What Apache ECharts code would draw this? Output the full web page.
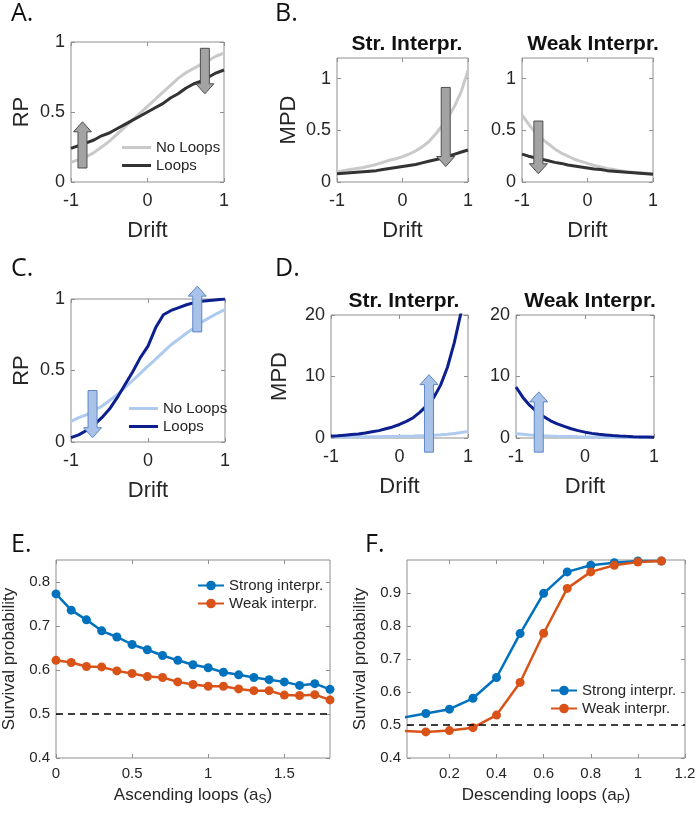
<!DOCTYPE html>
<html>
<head>
<meta charset="utf-8">
<script src="https://cdn.jsdelivr.net/npm/echarts@6/dist/echarts.min.js"></script>
<style>
  html, body { margin: 0; padding: 0; background: #fff; }
  #main { width: 700px; height: 815px; }
</style>
</head>
<body>
<div id="main"></div>
<script>
// x values for panels A-D
var drift = [-1, -0.9, -0.8, -0.7, -0.6, -0.5, -0.4, -0.3, -0.2, -0.1, 0, 0.1, 0.2, 0.3, 0.4, 0.5, 0.6, 0.7, 0.8, 0.9, 1];

// A. RP (grey)
var rpNoLoopsA = [0.14, 0.16, 0.18, 0.21, 0.25, 0.29, 0.34, 0.39, 0.44, 0.49, 0.54, 0.59, 0.64, 0.69, 0.74, 0.78, 0.81, 0.84, 0.87, 0.90, 0.92];
var rpLoopsA = [0.24, 0.26, 0.28, 0.30, 0.33, 0.35, 0.38, 0.41, 0.44, 0.47, 0.50, 0.53, 0.56, 0.60, 0.63, 0.67, 0.70, 0.72, 0.75, 0.78, 0.80];
// B. MPD (grey)
var mpdStrNoLoopsB = [0.10, 0.11, 0.12, 0.13, 0.14, 0.155, 0.17, 0.19, 0.21, 0.225, 0.245, 0.27, 0.30, 0.34, 0.39, 0.46, 0.54, 0.63, 0.74, 0.88, 1.08];
var mpdStrLoopsB = [0.08, 0.085, 0.09, 0.095, 0.10, 0.105, 0.11, 0.12, 0.13, 0.14, 0.15, 0.16, 0.17, 0.185, 0.20, 0.215, 0.23, 0.25, 0.27, 0.29, 0.31];
var mpdWeakNoLoopsB = [0.65, 0.56, 0.48, 0.42, 0.37, 0.32, 0.28, 0.25, 0.22, 0.20, 0.18, 0.16, 0.145, 0.13, 0.12, 0.11, 0.10, 0.095, 0.09, 0.085, 0.08];
var mpdWeakLoopsB = [0.27, 0.25, 0.235, 0.22, 0.205, 0.19, 0.18, 0.165, 0.155, 0.145, 0.135, 0.125, 0.12, 0.11, 0.105, 0.10, 0.095, 0.09, 0.085, 0.08, 0.075];
// C. RP (blue)
var rpNoLoopsC = [0.145, 0.17, 0.19, 0.22, 0.25, 0.29, 0.33, 0.38, 0.43, 0.48, 0.53, 0.58, 0.63, 0.68, 0.72, 0.76, 0.80, 0.84, 0.87, 0.90, 0.925];
var rpLoopsC = [0.03, 0.05, 0.08, 0.12, 0.17, 0.23, 0.31, 0.40, 0.49, 0.59, 0.67, 0.80, 0.89, 0.92, 0.94, 0.96, 0.975, 0.985, 0.99, 0.995, 1.0];
// D. MPD (blue)
var mpdStrNoLoopsD = [0.15, 0.16, 0.17, 0.18, 0.19, 0.2, 0.21, 0.22, 0.24, 0.26, 0.28, 0.3, 0.33, 0.37, 0.41, 0.46, 0.53, 0.62, 0.74, 0.88, 1.08];
var mpdStrLoopsD = [0.3, 0.35, 0.45, 0.55, 0.65, 0.8, 1.0, 1.2, 1.5, 1.8, 2.2, 2.7, 3.3, 4.2, 5.3, 6.6, 8.6, 11.5, 15.5, 20.5, 26];
var mpdWeakNoLoopsD = [0.7, 0.6, 0.5, 0.44, 0.38, 0.33, 0.29, 0.26, 0.23, 0.2, 0.18, 0.16, 0.145, 0.13, 0.12, 0.11, 0.1, 0.095, 0.09, 0.085, 0.08];
var mpdWeakLoopsD = [8.3, 6.6, 5.3, 4.3, 3.5, 2.8, 2.3, 1.9, 1.5, 1.2, 0.95, 0.75, 0.6, 0.5, 0.4, 0.33, 0.27, 0.22, 0.18, 0.15, 0.12];

// arrows: [x, from, to]
var arrowsA = [[-0.85, 0.10, 0.43], [0.75, 0.955, 0.63]];
var arrowsBStr = [[0.66, 0.915, 0.15]];
var arrowsBWeak = [[-0.75, 0.59, 0.08]];
var arrowsC = [[-0.72, 0.36, 0.03], [0.64, 0.77, 1.09]];
var arrowsDStr = [[0.43, -2.3, 10.3]];
var arrowsDWeak = [[-0.67, -2.3, 7.5]];

// E. survival vs ascending loops
var aS = [0, 0.1, 0.2, 0.3, 0.4, 0.5, 0.6, 0.7, 0.8, 0.9, 1.0, 1.1, 1.2, 1.3, 1.4, 1.5, 1.6, 1.7, 1.8];
var strongE = [0.773, 0.736, 0.714, 0.689, 0.675, 0.658, 0.646, 0.633, 0.622, 0.612, 0.605, 0.595, 0.589, 0.583, 0.578, 0.573, 0.565, 0.569, 0.556];
var weakE = [0.622, 0.617, 0.608, 0.607, 0.598, 0.592, 0.585, 0.583, 0.573, 0.567, 0.563, 0.563, 0.557, 0.553, 0.553, 0.543, 0.542, 0.544, 0.532];
// F. survival vs descending loops
var aP = [0, 0.1, 0.2, 0.3, 0.4, 0.5, 0.6, 0.7, 0.8, 0.9, 1.0, 1.1];
var strongF = [0.522, 0.535, 0.548, 0.581, 0.644, 0.777, 0.899, 0.964, 0.984, 0.992, 0.997, 0.997];
var weakF = [0.482, 0.479, 0.483, 0.492, 0.530, 0.629, 0.778, 0.914, 0.964, 0.984, 0.994, 0.997];

// tick labels
var driftTicks = [-1, 0, 1];
var rpTicks = [0, 0.5, 1];
var mpdTicksB = [0, 0.5, 1];
var mpdTicksD = [0, 10, 20];
var survTicksE = [0.4, 0.5, 0.6, 0.7, 0.8];
var aSTicks = [0, 0.5, 1, 1.5];
var survTicksF = [0.4, 0.5, 0.6, 0.7, 0.8, 0.9];
var aPTicks = [0.2, 0.4, 0.6, 0.8, 1, 1.2];

var FONT = 'Liberation Sans, Arial, sans-serif';
var TXT = '#262626';
var BOX = '#8f8f8f';

var grids = [], xAxes = [], yAxes = [], series = [];

function zip(xs, ys) {
    return xs.map(function (x, k) { return [x, ys[k]]; });
}

function addPanel(rect, xc, yc, fs) {
    var gi = grids.length;
    grids.push({ left: rect[0], top: rect[1], width: rect[2], height: rect[3], show: true, borderColor: BOX, borderWidth: 1, containLabel: false });
    [false, true].forEach(function (mirror) {
        xAxes.push({
            type: 'value', gridIndex: gi, position: mirror ? 'top' : 'bottom',
            min: xc.min, max: xc.max,
            name: mirror ? '' : xc.name, nameLocation: 'middle', nameGap: xc.gap,
            nameTextStyle: { fontSize: xc.nameSize, color: TXT, fontFamily: FONT, rich: xc.rich },
            axisLine: { show: false, onZero: false },
            axisTick: { show: true, inside: true, length: 4, lineStyle: { color: BOX }, customValues: xc.ticks },
            axisLabel: { show: !mirror, fontSize: fs, color: TXT, fontFamily: FONT, margin: xc.margin, customValues: xc.ticks },
            splitLine: { show: false }
        });
        yAxes.push({
            type: 'value', gridIndex: gi, position: mirror ? 'right' : 'left',
            min: yc.min, max: yc.max,
            name: mirror ? '' : yc.name, nameLocation: 'middle', nameGap: yc.gap,
            nameTextStyle: { fontSize: yc.nameSize, color: TXT, fontFamily: FONT },
            axisLine: { show: false, onZero: false },
            axisTick: { show: true, inside: true, length: 4, lineStyle: { color: BOX }, customValues: yc.ticks },
            axisLabel: { show: !mirror, fontSize: fs, color: TXT, fontFamily: FONT, margin: 6, customValues: yc.ticks },
            splitLine: { show: false }
        });
    });
    return gi * 2;
}

function addLine(ai, name, xs, ys, color, extra) {
    var s = {
        type: 'line', name: name, xAxisIndex: ai, yAxisIndex: ai,
        data: zip(xs, ys), showSymbol: false, symbol: 'none', clip: true,
        lineStyle: { color: color, width: 3 }, itemStyle: { color: color }, z: 3
    };
    if (extra) { for (var k in extra) s[k] = extra[k]; }
    series.push(s);
    return s;
}

function addArrows(ai, arr, fill, stroke) {
    series.push({
        type: 'custom', xAxisIndex: ai, yAxisIndex: ai, clip: false, z: 10,
        data: arr, encode: { x: 0, y: [1, 2] },
        renderItem: function (params, api) {
            var p0 = api.coord([api.value(0), api.value(1)]);
            var p1 = api.coord([api.value(0), api.value(2)]);
            var dir = p1[1] > p0[1] ? 1 : -1;
            var cx = p0[0], w = 4.5, hw = 9, hl = 10;
            var yh = p1[1] - dir * hl;
            return {
                type: 'polygon',
                shape: { points: [[cx - w, p0[1]], [cx - w, yh], [cx - hw, yh], [cx, p1[1]], [cx + hw, yh], [cx + w, yh], [cx + w, p0[1]]] },
                style: { fill: fill, stroke: stroke, lineWidth: 1 }
            };
        }
    });
}

var GREY_L = '#c9c9c9', GREY_D = '#333333', GREY_AF = '#a3a3a3', GREY_AS = '#4d4d4d';
var BLUE_L = '#aecbef', BLUE_D = '#0c1f8f', BLUE_AF = '#a9c3e8', BLUE_AS = '#5b86c9';
var C1 = '#0072BD', C2 = '#D95319';

var xDrift = { min: -1, max: 1, ticks: driftTicks, name: 'Drift', gap: 38, nameSize: 22, margin: 10 };

// A
var a = addPanel([71, 42, 153, 140], xDrift, { min: 0, max: 1, ticks: rpTicks, name: 'RP', gap: 38, nameSize: 22 }, 18);
addLine(a, 'No Loops', drift, rpNoLoopsA, GREY_L);
addLine(a, 'Loops', drift, rpLoopsA, GREY_D);
addArrows(a, arrowsA, GREY_AF, GREY_AS);
// B
var b1 = addPanel([337, 58, 131, 124], xDrift, { min: 0, max: 1.2, ticks: mpdTicksB, name: 'MPD', gap: 37, nameSize: 22 }, 18);
addLine(b1, 'b-str-nl', drift, mpdStrNoLoopsB, GREY_L);
addLine(b1, 'b-str-l', drift, mpdStrLoopsB, GREY_D);
addArrows(b1, arrowsBStr, GREY_AF, GREY_AS);
var b2 = addPanel([522, 58, 131, 124], xDrift, { min: 0, max: 1.2, ticks: mpdTicksB, name: '', gap: 40, nameSize: 22 }, 18);
addLine(b2, 'b-weak-nl', drift, mpdWeakNoLoopsB, GREY_L);
addLine(b2, 'b-weak-l', drift, mpdWeakLoopsB, GREY_D);
addArrows(b2, arrowsBWeak, GREY_AF, GREY_AS);
// C
var c = addPanel([71, 299, 154, 143], xDrift, { min: 0, max: 1, ticks: rpTicks, name: 'RP', gap: 38, nameSize: 22 }, 18);
addLine(c, 'No Loops ', drift, rpNoLoopsC, BLUE_L);
addLine(c, 'Loops ', drift, rpLoopsC, BLUE_D);
addArrows(c, arrowsC, BLUE_AF, BLUE_AS);
// D
var d1 = addPanel([331, 315, 137, 123], xDrift, { min: 0, max: 20, ticks: mpdTicksD, name: 'MPD', gap: 40, nameSize: 22 }, 18);
addLine(d1, 'd-str-nl', drift, mpdStrNoLoopsD, BLUE_L);
addLine(d1, 'd-str-l', drift, mpdStrLoopsD, BLUE_D);
addArrows(d1, arrowsDStr, BLUE_AF, BLUE_AS);
var d2 = addPanel([516, 315, 138, 123], xDrift, { min: 0, max: 20, ticks: mpdTicksD, name: '', gap: 40, nameSize: 22 }, 18);
addLine(d2, 'd-weak-nl', drift, mpdWeakNoLoopsD, BLUE_L);
addLine(d2, 'd-weak-l', drift, mpdWeakLoopsD, BLUE_D);
addArrows(d2, arrowsDWeak, BLUE_AF, BLUE_AS);

// E
var subRich = { s: { fontSize: 12, padding: [10, 0, 0, 0], color: TXT, fontFamily: FONT } };
var dashed = {
    silent: true, symbol: ['none', 'none'], label: { show: false },
    lineStyle: { color: '#000', type: [7, 5], width: 1.5 },
    data: [{ yAxis: 0.5 }]
};
var markerOpts = { showSymbol: true, symbol: 'circle', symbolSize: 9 };

var e = addPanel([51, 560, 279, 198],
    { min: 0, max: 1.8, ticks: aSTicks, name: 'Ascending loops (a{s|S})', gap: 26, nameSize: 17, rich: subRich, margin: 8 },
    { min: 0.4, max: 0.85, ticks: survTicksE, name: 'Survival probability', gap: 38, nameSize: 17 }, 15);
addLine(e, 'Strong interpr.', aS, strongE, C1, markerOpts).lineStyle.width = 2.5;
var we = addLine(e, 'Weak interpr.', aS, weakE, C2, markerOpts);
we.lineStyle.width = 2.5;
we.markLine = dashed;

// F
var f = addPanel([407, 560, 278, 198],
    { min: 0.02, max: 1.2, ticks: aPTicks, name: 'Descending loops (a{s|P})', gap: 26, nameSize: 17, rich: subRich, margin: 8 },
    { min: 0.4, max: 1.0, ticks: survTicksF, name: 'Survival probability', gap: 38, nameSize: 17 }, 15);
addLine(f, 'Strong interpr.', aP, strongF, C1, markerOpts).lineStyle.width = 2.5;
var wf = addLine(f, 'Weak interpr.', aP, weakF, C2, markerOpts);
wf.lineStyle.width = 2.5;
wf.markLine = dashed;

function lineLegend(names, left, top) {
    return {
        data: names.map(function (n) { return { name: n, icon: 'rect' }; }),
        left: left, top: top, orient: 'vertical',
        itemWidth: 29, itemHeight: 3, itemGap: 3, selectedMode: false,
        textStyle: { fontSize: 15, color: TXT, fontFamily: FONT }
    };
}
function markerLegend(names, left, top) {
    return {
        data: names, left: left, top: top, orient: 'vertical',
        itemWidth: 26, itemHeight: 12, itemGap: 3, selectedMode: false,
        textStyle: { fontSize: 15, color: TXT, fontFamily: FONT }
    };
}

function label(text, left, top) {
    return { text: text, left: left, top: top, textStyle: { fontFamily: 'Open Sans', fontWeight: 'normal', fontSize: 25, color: '#111' } };
}
function head(text, cx, top) {
    return { text: text, left: cx, top: top, textAlign: 'center', textStyle: { fontFamily: FONT, fontWeight: 'bold', fontSize: 21, color: '#111' } };
}

var chart = echarts.init(document.getElementById('main'));
chart.setOption({
    animation: false,
    textStyle: { fontFamily: FONT },
    title: [
        label('A.', 6, -4), label('B.', 270, -4), label('C.', 6, 251), label('D.', 270, 251),
        label('E.', 6, 527), label('F.', 360, 527),
        head('Str. Interpr.', 402, 29), head('Weak Interpr.', 588, 29),
        head('Str. Interpr.', 399, 286), head('Weak Interpr.', 585, 286)
    ],
    legend: [
        lineLegend(['No Loops', 'Loops'], 117, 135),
        lineLegend(['No Loops ', 'Loops '], 124, 396),
        markerLegend(['Strong interpr.', 'Weak interpr.'], 192, 573),
        markerLegend(['Strong interpr.', 'Weak interpr.'], 545, 678)
    ],
    grid: grids,
    xAxis: xAxes,
    yAxis: yAxes,
    series: series
});
</script>
</body>
</html>
